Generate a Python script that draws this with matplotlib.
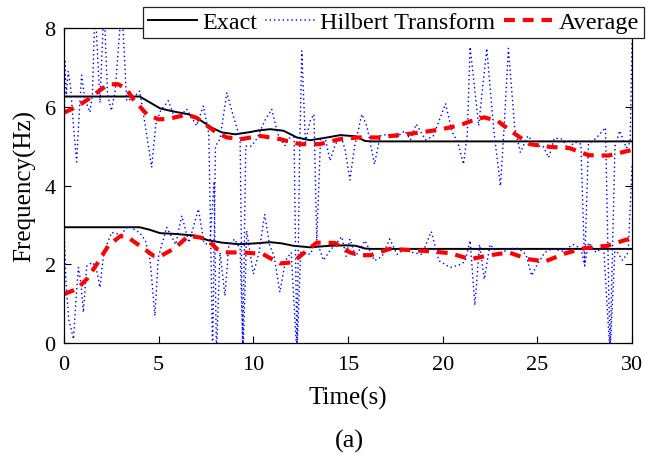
import matplotlib
matplotlib.use("Agg")
import matplotlib.pyplot as plt

plt.rcParams['font.family'] = ['Liberation Serif', 'DejaVu Serif']

# Exact instantaneous frequencies
exact_hi_t = [0, 4.0, 4.5, 5.07, 5.5, 6.0, 6.57, 7.1, 7.8, 8.33, 9.03, 9.74, 10.3, 10.9, 11.6, 12.3, 13.0, 13.9, 14.6, 14.85, 15.4, 15.9, 16.25, 30]
exact_hi_f = [6.26, 6.26, 6.12, 5.96, 5.91, 5.86, 5.81, 5.69, 5.47, 5.35, 5.30, 5.35, 5.40, 5.43, 5.39, 5.22, 5.15, 5.22, 5.28, 5.27, 5.25, 5.13, 5.12, 5.12]
exact_lo_t = [0, 4.0, 4.5, 5.07, 5.86, 6.9, 7.6, 8.33, 9.2, 10.1, 10.9, 11.5, 12.1, 13.0, 14.05, 14.9, 15.4, 15.9, 16.2, 30]
exact_lo_f = [2.94, 2.94, 2.88, 2.79, 2.77, 2.73, 2.61, 2.55, 2.51, 2.53, 2.56, 2.53, 2.47, 2.43, 2.47, 2.48, 2.47, 2.40, 2.39, 2.39]

# Hilbert transform estimates
hil_hi_t = [0.0, 0.04, 0.12, 0.22, 0.35, 0.5, 0.67, 0.8, 0.93, 1.1, 1.37, 1.5, 1.64, 1.9, 2.11, 2.3, 2.5, 2.7, 3.05, 3.31,
            3.6, 4.0, 4.3, 4.63, 4.85, 5.1, 5.51, 5.86, 6.1, 6.48, 7.0, 7.36, 7.65, 7.85, 8.0, 8.24, 8.6, 8.98, 9.3, 9.44,
            9.6, 9.9, 10.2, 10.6, 10.97, 11.3, 11.67, 11.9, 12.15, 12.3, 12.45, 12.56, 12.75, 13.0, 13.2, 13.35, 13.55, 13.8, 14.05, 14.3,
            14.6, 14.85, 15.1, 15.35, 15.73, 16.0, 16.4, 16.7, 17.1, 17.5, 18.0, 18.3, 18.6, 19.1, 19.5, 20.15, 20.5, 20.8, 21.1, 21.3,
            21.45, 21.9, 22.33, 22.7, 23.05, 23.25, 23.47, 23.8, 24.1, 24.5, 24.97, 25.3, 25.6, 25.9, 26.3, 26.6, 27.0, 27.3, 27.5, 27.7,
            28.1, 28.6, 28.84, 29.1, 29.35, 29.7, 29.9, 30.0]
hil_hi_f = [3.5, 7.2, 6.3, 6.9, 6.5, 5.5, 4.6, 5.8, 6.8, 6.2, 5.86, 6.3, 8.6, 6.1, 8.6, 6.3, 5.9, 6.4, 8.6, 6.15,
            6.2, 6.4, 5.5, 4.46, 5.56, 5.9, 6.15, 5.7, 5.75, 5.94, 5.52, 6.02, 5.3, -0.3, 5.0, 5.18, 6.36, 5.7, 5.2, -0.3,
            5.0, 5.0, 5.2, 5.64, 5.94, 5.3, 5.01, 5.2, 5.3, -0.3, 5.0, 7.42, 5.1, 5.64, 5.81, 2.6, 5.2, 5.2, 4.63, 5.0,
            5.3, 4.9, 4.14, 5.0, 5.81, 5.5, 4.54, 5.26, 5.3, 5.2, 5.39, 5.16, 5.56, 5.16, 5.25, 6.08, 5.36, 5.1, 4.54, 5.3,
            7.52, 5.52, 7.48, 5.4, 3.99, 5.5, 7.48, 5.5, 4.84, 5.26, 5.0, 5.0, 4.71, 5.2, 5.18, 4.95, 5.1, 5.05, 1.96, 5.05,
            5.2, 5.47, -0.3, 5.0, 5.39, 4.95, 5.1, 7.7]
hil_lo_t = [0.0, 0.1, 0.25, 0.5, 0.62, 0.76, 0.9, 1.02, 1.2, 1.5, 1.7, 1.9, 2.1, 2.52, 3.0, 3.4, 4.0, 4.3, 4.55, 4.8,
            4.98, 5.42, 5.9, 6.22, 6.6, 7.1, 7.4, 7.7, 7.93, 8.05, 8.24, 8.5, 8.7, 9.0, 9.3, 9.46, 9.65, 10.0, 10.3, 10.6,
            10.85, 11.1, 11.4, 11.7, 12.0, 12.3, 12.5, 12.7, 13.0, 13.35, 13.7, 14.05, 14.67, 14.9, 15.1, 15.4, 15.9, 16.4, 16.8, 17.2,
            17.6, 18.0, 18.4, 18.9, 19.4, 19.8, 20.4, 21.0, 21.2, 21.45, 21.7, 21.95, 22.2, 22.5, 23.0, 23.5, 24.0, 24.4, 24.7, 25.0,
            25.4, 25.8, 26.3, 26.9, 27.3, 27.5, 27.7, 28.1, 28.5, 28.84, 29.1, 29.5, 29.8, 30.0]
hil_lo_f = [3.0, 1.6, 0.6, 0.1, 1.0, 1.92, 1.5, 0.78, 1.95, 2.05, 1.9, 1.41, 2.3, 2.81, 2.75, 2.97, 2.8, 2.6, 2.1, 0.69,
            2.17, 2.94, 2.5, 3.23, 2.55, 3.4, 2.53, 2.5, 4.1, -0.3, 2.3, 1.2, 2.45, 2.64, 2.4, -0.3, 2.85, 1.75, 2.3, 3.27,
            2.5, 2.2, 1.29, 2.1, 2.3, -0.3, 2.3, 2.3, 2.25, 2.6, 2.1, 2.35, 2.7, 2.2, 2.64, 2.2, 2.6, 2.09, 2.2, 2.64,
            2.25, 2.38, 2.3, 2.25, 2.83, 2.09, 1.92, 2.0, 2.1, 2.6, 0.96, 2.5, 1.62, 2.5, 2.25, 2.4, 2.4, 2.25, 1.71, 2.0,
            2.3, 2.4, 2.33, 2.5, 2.4, 1.96, 2.55, 2.3, 2.45, -0.3, 2.4, 2.1, 2.3, 4.5]

# Averaged estimates
avg_hi_t = [0.0, 0.67, 1.37, 1.9, 2.34, 2.87, 3.3, 3.66, 4.37, 5.0, 5.5, 6.48, 7.0, 7.45, 8.0, 8.6, 9.39, 10.35, 11.4, 12.0,
            12.5, 13.5, 14.6, 15.55, 16.6, 17.66, 18.9, 19.95, 20.9, 21.8, 22.2, 22.9, 23.7, 24.6, 25.67, 26.7, 27.7, 28.75, 29.8, 30.0]
avg_hi_f = [5.85, 6.0, 6.22, 6.42, 6.57, 6.57, 6.45, 6.19, 5.81, 5.68, 5.69, 5.8, 5.72, 5.56, 5.36, 5.22, 5.18, 5.26, 5.18, 5.1,
            5.05, 5.05, 5.18, 5.22, 5.22, 5.28, 5.35, 5.43, 5.53, 5.69, 5.73, 5.64, 5.35, 5.05, 4.98, 4.95, 4.77, 4.76, 4.88, 4.9]
avg_lo_t = [0.0, 0.67, 1.2, 1.73, 2.34, 2.96, 3.3, 4.0, 4.72, 5.07, 5.86, 6.57, 7.2, 7.62, 8.07, 8.5, 9.47, 10.5, 11.4, 12.1,
            12.5, 13.35, 14.3, 15.1, 15.6, 16.2, 17.2, 18.3, 19.3, 20.4, 21.45, 22.5, 23.5, 24.5, 25.4, 26.5, 27.5, 28.7, 29.6, 30.0]
avg_lo_f = [1.24, 1.37, 1.62, 2.0, 2.47, 2.71, 2.71, 2.47, 2.22, 2.2, 2.41, 2.72, 2.68, 2.6, 2.39, 2.3, 2.3, 2.26, 2.02, 2.05,
            2.22, 2.55, 2.54, 2.3, 2.23, 2.23, 2.39, 2.36, 2.33, 2.28, 2.13, 2.23, 2.3, 2.13, 2.07, 2.28, 2.41, 2.47, 2.61, 2.66]

x_ticks = [0, 5, 10, 15, 20, 25, 30]
y_ticks = [0, 2, 4, 6, 8]

fig = plt.figure(figsize=(6.62, 4.60), dpi=100)
ax = fig.add_axes([64/662, 1-344/460, 568/662, 315/460])

red_kw = dict(color='#FF0000', lw=3.0, linestyle=(0, (2.6, 1.9)), solid_capstyle='butt')
blue_kw = dict(color='#0000FF', lw=1.2, linestyle=(0, (0.01, 2.6)), dash_capstyle='round')

l1, = ax.plot(exact_hi_t, exact_hi_f, color='black', lw=1.4, label='Exact')
ax.plot(exact_lo_t, exact_lo_f, color='black', lw=1.4)
l2, = ax.plot(hil_hi_t, hil_hi_f, label='Hilbert Transform', **blue_kw)
ax.plot(hil_lo_t, hil_lo_f, **blue_kw)
l3, = ax.plot(avg_hi_t, avg_hi_f, label='Average', **red_kw)
ax.plot(avg_lo_t, avg_lo_f, **red_kw)

ax.set_xlim(0, 30)
ax.set_ylim(0, 8)
ax.set_xticks(x_ticks)
ax.set_yticks(y_ticks)
ax.tick_params(direction='in', length=5, width=0.8, top=True, right=True, labelsize=16)
ax.tick_params(axis='y', pad=6)
ax.tick_params(axis='x', pad=9)
for s in ax.spines.values():
    s.set_linewidth(0.9)

ax.set_xlabel('Time(s)', fontsize=18, labelpad=8)
ax.set_ylabel('Frequency(Hz)', fontsize=18, labelpad=6)

leg = ax.legend(handles=[l1, l2, l3], loc='center', bbox_to_anchor=(393.5/662, 1-23.5/460),
                bbox_transform=fig.transFigure, ncol=3, fontsize=17.4, frameon=True, fancybox=False,
                edgecolor='#222222', framealpha=1, borderpad=0.2, handlelength=2.0, handletextpad=0.25,
                columnspacing=0.35, borderaxespad=0)
leg.get_frame().set_linewidth(0.9)

fig.text(349/662, 1-441/460, '(a)', fontsize=19, ha='center', va='center')

fig.savefig('out.png', dpi=100)
